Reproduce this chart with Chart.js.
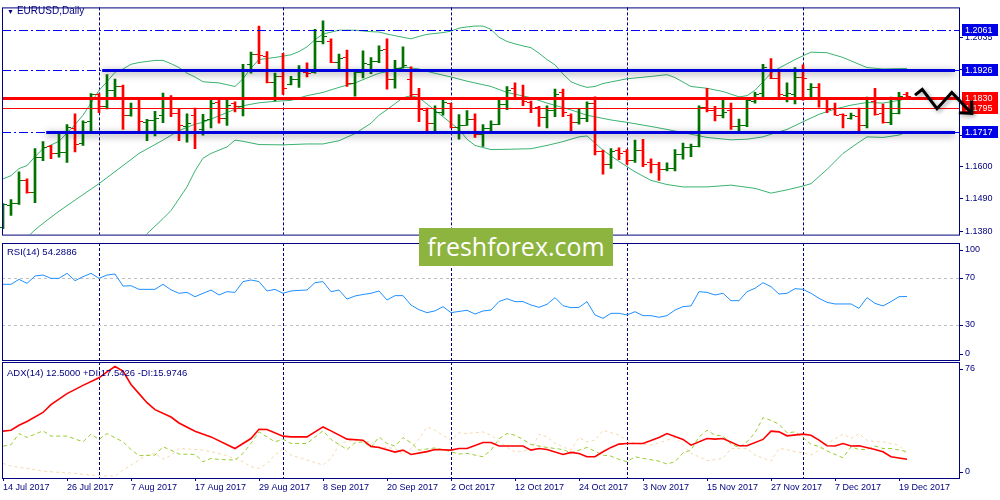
<!DOCTYPE html>
<html>
<head>
<meta charset="utf-8">
<script src="https://cdn.jsdelivr.net/npm/chart.js@4.4.0/dist/chart.umd.min.js"></script>
<style>
  body { margin: 0; background: #fff; }
  #wrap { position: relative; width: 1000px; height: 500px; overflow: hidden; font-family: "Liberation Sans", Arial, sans-serif; }
  .pane { position: absolute; left: 0; width: 1000px; }
  .lbl { position: absolute; font-size: 9.5px; line-height: 11px; color: #000080; white-space: nowrap; }
  #wm { position: absolute; left: 419px; top: 228px; width: 194px; height: 38px; background: #8db43e; color: #fff;
        font-family: "Open Sans", sans-serif; font-size: 25px; line-height: 37px; text-align: center; }
</style>
</head>
<body>
<div id="wrap">
  <div class="pane" style="top:0;height:242px"><canvas id="main" width="1000" height="242"></canvas></div>
  <div class="pane" style="top:242px;height:120px"><canvas id="rsi" width="1000" height="120"></canvas></div>
  <div class="pane" style="top:361px;height:139px"><canvas id="adx" width="1000" height="139"></canvas></div>
  <div class="lbl" style="left:7px;top:5px;font-size:10px"><span style="font-size:7px;margin-right:3px">▼</span>EURUSD,Daily</div>
  <div class="lbl" style="left:7px;top:246px">RSI(14) 54.2886</div>
  <div class="lbl" style="left:7px;top:367px">ADX(14) 12.5000 +DI:17.5426 -DI:15.9746</div>
  <div id="wm">freshforex.com</div>
</div>
<script>
// daily bars, 14 Jul 2017 .. 20 Dec 2017 (index = trading day)
const opens = [1.1396,1.1469,1.1475,1.1555,1.1513,1.1632,1.1667,1.1643,1.1648,1.1729,
  1.1679,1.1753,1.1842,1.1802,1.1856,1.1869,1.1772,1.1796,1.1750,1.1755,
  1.1772,1.1826,1.1778,1.1734,1.1772,1.1724,1.1759,1.1817,1.1761,1.1813,
  1.1802,1.1946,1.1980,1.1971,1.1885,1.1906,1.1879,1.1895,1.1919,1.1917,
  1.2024,1.2024,1.1951,1.1967,1.1881,1.1917,1.1944,1.1954,1.1994,1.1895,
  1.1933,1.1895,1.1845,1.1791,1.1745,1.1783,1.1813,1.1731,1.1740,1.1759,
  1.1710,1.1729,1.1742,1.1810,1.1863,1.1833,1.1817,1.1799,1.1767,1.1788,
  1.1849,1.1774,1.1748,1.1761,1.1813,1.1652,1.1606,1.1654,1.1652,1.1622,
  1.1654,1.1613,1.1609,1.1589,1.1595,1.1641,1.1665,1.1667,1.1799,1.1790,
  1.1774,1.1788,1.1734,1.1738,1.1820,1.1847,1.1928,1.1898,1.1840,1.1845,
  1.1901,1.1861,1.1866,1.1828,1.1796,1.1775,1.1764,1.1770,1.1740,1.1820,
  1.1781,1.1748,1.1781,1.1842];
const highs = [1.1474,1.1487,1.1581,1.1557,1.1659,1.1683,1.1670,1.1711,1.1740,1.1777,
  1.1753,1.1845,1.1845,1.1909,1.1894,1.1874,1.1813,1.1823,1.1758,1.1785,
  1.1847,1.1838,1.1793,1.1777,1.1796,1.1775,1.1828,1.1822,1.1822,1.1817,
  1.1944,1.1985,1.2073,1.1987,1.1914,1.1981,1.1903,1.1940,1.1949,1.2062,
  1.2091,1.2030,1.1978,1.1992,1.1924,1.1989,1.1967,1.2006,1.2030,1.1957,
  1.2003,1.1935,1.1863,1.1796,1.1804,1.1831,1.1813,1.1774,1.1788,1.1777,
  1.1740,1.1753,1.1826,1.1869,1.1881,1.1874,1.1820,1.1802,1.1804,1.1860,
  1.1860,1.1777,1.1793,1.1817,1.1834,1.1654,1.1659,1.1662,1.1656,1.1688,
  1.1691,1.1625,1.1613,1.1611,1.1656,1.1678,1.1675,1.1804,1.1863,1.1802,
  1.1823,1.1813,1.1759,1.1828,1.1849,1.1944,1.1963,1.1917,1.1881,1.1933,
  1.1942,1.1879,1.1879,1.1831,1.1813,1.1777,1.1779,1.1796,1.1833,1.1863,
  1.1810,1.1833,1.1849,1.1849];
const lows = [1.1389,1.1434,1.1471,1.1509,1.1477,1.1619,1.1625,1.1630,1.1613,1.1648,
  1.1670,1.1718,1.1781,1.1793,1.1831,1.1724,1.1769,1.1713,1.1686,1.1702,
  1.1747,1.1767,1.1686,1.1681,1.1659,1.1705,1.1729,1.1745,1.1738,1.1783,
  1.1770,1.1914,1.1946,1.1881,1.1820,1.1842,1.1874,1.1866,1.1901,1.1914,
  1.2013,1.1949,1.1928,1.1869,1.1836,1.1898,1.1912,1.1949,1.1860,1.1863,
  1.1931,1.1831,1.1750,1.1718,1.1718,1.1772,1.1729,1.1691,1.1738,1.1697,
  1.1667,1.1718,1.1740,1.1791,1.1826,1.1804,1.1781,1.1734,1.1729,1.1767,
  1.1767,1.1720,1.1742,1.1750,1.1638,1.1573,1.1592,1.1622,1.1606,1.1613,
  1.1598,1.1577,1.1552,1.1584,1.1584,1.1624,1.1632,1.1665,1.1783,1.1753,
  1.1763,1.1724,1.1713,1.1733,1.1813,1.1833,1.1895,1.1826,1.1817,1.1810,
  1.1823,1.1831,1.1799,1.1781,1.1772,1.1729,1.1759,1.1718,1.1729,1.1772,
  1.1745,1.1740,1.1776,1.1831];
const closes = [1.1471,1.1477,1.1552,1.1513,1.1630,1.1665,1.1643,1.1648,1.1731,1.1675,
  1.1750,1.1842,1.1802,1.1856,1.1869,1.1772,1.1796,1.1753,1.1757,1.1761,
  1.1826,1.1778,1.1738,1.1745,1.1720,1.1756,1.1813,1.1761,1.1806,1.1802,
  1.1922,1.1980,1.1974,1.1885,1.1906,1.1863,1.1895,1.1928,1.1916,1.2021,
  1.2038,1.1951,1.1965,1.1881,1.1917,1.1949,1.1954,1.1992,1.1895,1.1933,
  1.1942,1.1845,1.1793,1.1745,1.1783,1.1815,1.1732,1.1740,1.1759,1.1710,
  1.1729,1.1742,1.1810,1.1858,1.1833,1.1820,1.1796,1.1767,1.1788,1.1845,
  1.1783,1.1750,1.1761,1.1813,1.1652,1.1606,1.1652,1.1645,1.1622,1.1654,
  1.1606,1.1609,1.1589,1.1595,1.1641,1.1665,1.1667,1.1799,1.1788,1.1774,
  1.1783,1.1734,1.1738,1.1823,1.1845,1.1935,1.1898,1.1842,1.1847,1.1901,
  1.1898,1.1866,1.1828,1.1793,1.1774,1.1772,1.1772,1.1740,1.1826,1.1776,
  1.1748,1.1781,1.1838,1.1838];

// Bollinger bands (20) as [bar, price]
const bbUpper = [[0,1.1557],[1,1.1568],[2,1.1592],[3,1.1602],[4,1.1632],[5,1.1659],[7,1.1684],[9,1.1740],
  [10,1.1772],[11,1.1813],[12,1.1856],[13,1.1885],[14,1.1917],[15,1.1928],[16,1.1944],[17,1.1950],
  [19,1.1957],[20,1.1957],[21,1.1946],[22,1.1933],[23,1.1914],[24,1.1901],[25,1.1885],[27,1.1881],
  [29,1.1869],[30,1.1895],[31,1.1931],[32,1.1960],[34,1.1967],[36,1.1976],[37,1.1987],[38,1.2003],
  [39,1.2027],[40,1.2046],[42,1.2059],[44,1.2059],[46,1.2054],[47,1.2053],[48,1.2046],[50,1.2035],
  [51,1.2030],[52,1.2038],[53,1.2045],[55,1.2051],[56,1.2056],[57,1.2066],[58,1.2070],[59,1.2073],
  [60,1.2073],[61,1.2062],[62,1.2035],[63,1.2021],[64,1.2013],[65,1.2006],[66,1.2000],[67,1.1981],
  [68,1.1960],[69,1.1942],[70,1.1911],[71,1.1885],[72,1.1874],[73,1.1866],[74,1.1869],[75,1.1879],
  [78,1.1895],[81,1.1903],[83,1.1909],[84,1.1899],[86,1.1869],[88,1.1863],[90,1.1852],[92,1.1834],
  [93,1.1838],[94,1.1856],[95,1.1885],[96,1.1914],[97,1.1931],[99,1.1960],[101,1.1985],[103,1.1983],
  [105,1.1967],[107,1.1944],[108,1.1933],[110,1.1928],[113,1.1930]];
const bbMiddle = [[3,1.1359],[4,1.1385],[5,1.1407],[7,1.1448],[10,1.1504],[12,1.1541],[15,1.1602],
  [17,1.1643],[20,1.1688],[22,1.1720],[24,1.1742],[25,1.1748],[28,1.1781],[30,1.1804],[32,1.1814],
  [34,1.1819],[36,1.1822],[38,1.1838],[40,1.1849],[42,1.1866],[44,1.1881],[46,1.1903],[47,1.1914],
  [48,1.1919],[50,1.1935],[52,1.1928],[53,1.1920],[56,1.1901],[58,1.1887],[61,1.1869],[63,1.1849],
  [66,1.1831],[68,1.1813],[71,1.1790],[73,1.1772],[76,1.1756],[78,1.1748],[81,1.1734],[83,1.1724],
  [86,1.1708],[88,1.1697],[91,1.1689],[93,1.1691],[95,1.1699],[96,1.1708],[98,1.1724],[100,1.1750],
  [102,1.1775],[104,1.1793],[106,1.1806],[108,1.1815],[110,1.1813],[112,1.1822],[113,1.1828]];
const bbLower = [[17,1.1343],[18,1.1372],[20,1.1423],[21,1.1450],[23,1.1530],[24,1.1584],[25,1.1627],
  [26,1.1643],[28,1.1665],[29,1.1688],[30,1.1684],[32,1.1673],[35,1.1672],[38,1.1675],[40,1.1675],
  [42,1.1686],[44,1.1710],[46,1.1745],[47,1.1772],[48,1.1791],[50,1.1831],[51,1.1838],[52,1.1831],
  [53,1.1810],[55,1.1767],[57,1.1724],[58,1.1691],[59,1.1670],[61,1.1656],[63,1.1657],[66,1.1659],
  [68,1.1670],[70,1.1683],[71,1.1691],[72,1.1699],[73,1.1702],[75,1.1654],[77,1.1616],[79,1.1581],
  [81,1.1552],[83,1.1538],[85,1.1530],[88,1.1530],[91,1.1536],[94,1.1525],[96,1.1509],[98,1.1520],
  [100,1.1533],[101,1.1541],[103,1.1589],[105,1.1643],[107,1.1681],[108,1.1699],[110,1.1697],
  [112,1.1705],[113,1.1716]];

// RSI(14), one value per bar
const rsi = [64.7,64.7,68.9,65.5,71.8,72.6,69.8,69.8,74.1,67.8,
  71.2,74.1,69.8,72.6,73.5,63.2,63.5,60.4,60.4,60.4,
  64.7,60.0,57.0,57.8,54.1,57.0,59.8,55.6,58.4,57.8,
  67.0,68.4,67.0,59.0,60.4,57.0,59.0,59.5,59.8,66.1,
  67.0,58.4,59.8,52.1,54.7,56.0,57.0,59.0,51.3,55.0,
  55.0,47.0,43.0,40.5,42.0,45.6,40.5,41.5,42.5,39.3,
  41.9,42.7,50.0,52.4,49.9,49.9,47.0,45.0,47.6,53.3,
  46.4,44.7,45.0,49.9,38.5,35.6,39.9,39.9,38.5,41.3,
  37.9,37.9,36.5,37.9,42.7,45.6,46.2,58.4,57.8,55.6,
  57.0,50.7,50.7,58.4,61.3,66.1,62.7,56.4,57.0,61.0,
  60.4,57.0,52.7,49.3,47.9,47.9,47.9,44.2,53.3,48.4,
  46.2,49.9,54.1,54.3];

// ADX(14) and directional lines, [bar, value]
const adx = [[0,31.1],[1,31.7],[2,35],[3,37.5],[5,43.5],[6,48.7],[8,56.0],[10,61.5],[12,66.5],[13,70.5],
  [14,74.0],[15,71.0],[16,62.1],[17,56],[18,50],[19,45.4],[21,40.5],[22,36.5],[24,31.1],[26,27.3],
  [29,19.6],[31,26.2],[32,32.4],[33,32.2],[35,27.8],[36,27.3],[38,27.3],[40,33.9],[41,31.3],[43,25.8],
  [45,25.1],[46,21],[47,20.3],[49,17.2],[50,18.5],[51,15.6],[53,17.5],[54,18.9],[56,18.5],[57,19.6],
  [58,19.6],[60,23.6],[61,23.6],[62,21.2],[65,21.2],[66,18.5],[67,19.6],[68,18.9],[70,15.6],[71,17.0],
  [72,16.3],[73,14.1],[74,14.1],[75,17.4],[76,20.3],[77,22.5],[78,22.9],[80,22.9],[82,26.9],[83,29.5],
  [85,25.6],[86,21.8],[88,26.2],[89,25.8],[90,26.2],[92,21.4],[93,21.4],[95,25.6],[96,31.1],[97,30.6],
  [98,28.0],[100,29.1],[101,28.4],[102,25.1],[103,21.4],[104,21.2],[105,22.9],[106,21.2],[107,21.4],
  [109,18.9],[110,17.4],[111,14.1],[113,12.5]];
const plusDI = [[0,21.2],[1,22],[2,29.5],[3,26.9],[5,31.3],[6,27.8],[8,27.8],[10,24.0],[11,29.1],[12,25.6],
  [13,29.5],[15,24.0],[16,18.9],[17,14.8],[19,15.2],[20,20.7],[21,18.5],[22,15.9],[24,15.6],[25,10.8],
  [26,13.0],[27,12.3],[29,11.9],[30,16.3],[31,23],[32,30.6],[34,24.0],[35,25.8],[36,22.9],[38,22.9],
  [40,31.3],[41,25.6],[42,22.3],[43,18.9],[44,23.4],[45,24.0],[46,20.3],[47,27.3],[48,22.9],[49,21.2],
  [50,26.9],[51,23.4],[52,18.5],[54,20.0],[55,18.9],[56,17.4],[57,15.9],[58,16.3],[60,14.1],[61,18.5],
  [62,26],[63,29.5],[64,28.4],[65,25.6],[66,22.3],[67,21.2],[68,20.3],[70,18.9],[71,16.7],[72,18.5],
  [73,20.3],[75,15.2],[76,14.5],[77,12.3],[78,10.8],[79,14.1],[80,13.0],[82,11.2],[83,9.3],[84,10.8],
  [85,16.7],[86,18.5],[87,27.3],[88,31.7],[89,28.4],[90,28.0],[91,22.5],[92,20.3],[93,24.0],[94,30.0],
  [95,40.1],[96,38.3],[97,35.7],[98,30.0],[99,30.6],[100,26.9],[101,22.3],[102,21],[103,18],[105,13.4],
  [106,20.7],[107,18.9],[108,18.9],[109,21.2],[110,19.6],[111,19.6],[113,17.54]];
const minusDI = [[0,9.7],[1,7.9],[3,6.4],[5,4.6],[7,3.7],[9,3.1],[10,2.4],[12,1.5],[14,1.3],[15,5.3],
  [16,8.6],[17,12],[18,15.2],[19,16.3],[20,12.5],[21,15],[22,19.6],[24,18.9],[25,18.5],[27,16.3],
  [28,14.8],[30,10.8],[31,7.5],[32,6.4],[33,9.7],[34,15.2],[35,19.6],[36,15.2],[38,11.9],[40,8.6],
  [41,13.0],[42,21.8],[43,24.5],[44,25.1],[46,24.0],[47,20.7],[49,19.6],[50,15.6],[51,19.6],[52,25.8],
  [53,33.9],[54,31.7],[56,25.1],[57,30.0],[58,29.5],[60,30.6],[61,28.4],[62,24.5],[63,20.3],[64,17.4],
  [66,18.5],[67,29.1],[68,27.3],[69,22.9],[71,18.5],[72,26.9],[73,24.0],[74,25.1],[75,31.7],[77,28.4],
  [78,25.1],[79,22.9],[81,21.8],[82,23.4],[83,25.1],[84,26.9],[86,16.3],[87,14.1],[88,11.5],[90,13.0],
  [91,19.6],[93,19.6],[94,15.2],[96,11.2],[97,19.6],[98,18.9],[99,17.4],[100,16.7],[101,15.2],[102,18.5],
  [103,22.9],[105,29.1],[106,26.2],[107,29.5],[108,25.1],[109,24.0],[110,24.0],[112,21.8],[113,15.97]];

// axis labels
const labelIdx = [0,8,16,24,32,40,48,56,64,72,80,88,96,104,112];
const dateLabels = ['14 Jul 2017','26 Jul 2017','7 Aug 2017','17 Aug 2017','29 Aug 2017','8 Sep 2017',
  '20 Sep 2017','2 Oct 2017','12 Oct 2017','24 Oct 2017','3 Nov 2017','15 Nov 2017','27 Nov 2017',
  '7 Dec 2017','19 Dec 2017'];
const monthStartIdx = [12, 35, 56, 78, 100];
const priceTicks = [1.1380, 1.1490, 1.1600, 1.1705, 1.1815, 1.1925, 1.2035];
const rsiLevels = [70, 30];
const rsiTicks = [100, 70, 30, 0];
const adxTicks = [76, 0];

// drawn objects
const dashLevels = [1.2061, 1.1926, 1.1717];
const channelPrices = [1.1926, 1.1717];
const channelStart = [12.4, 5.4];
const channelEnd = 119;
const redThick = 1.1830;
const redThin = 1.1795;
const boxPrices = [1.2061, 1.1926, 1.1717, 1.1830, 1.1795];
const boxRed = [false, false, false, true, true];
const arrowPath = [[114, 1.1840], [114.9, 1.1859], [116.75, 1.1794], [118.6, 1.1849], [121.1, 1.1778]];

Chart.defaults.font.family = '"Liberation Sans", Arial, sans-serif';
Chart.defaults.font.size = 9;
Chart.defaults.color = '#000080';

const NAVY = '#000080';
const GREEN = '#007300';
const RED = '#ff0000';

function barColor(i) {
  return closes[i] >= opens[i] ? GREEN : RED;
}

function xAxis(show) {
  const ax = {
    type: 'linear', min: -0.125, max: 119.625, offset: false, display: show,
    grid: { offset: false, drawOnChartArea: false, color: NAVY, tickLength: 3 },
    border: { display: false },
    afterBuildTicks: s => { s.ticks = labelIdx.map(v => ({ value: v })); },
    ticks: { align: 'start', maxRotation: 0, autoSkip: false, padding: 1, color: NAVY,
      callback: v => dateLabels[labelIdx.indexOf(v)] }
  };
  if (show) ax.afterFit = s => { s.height = 22; };
  return ax;
}

function frame(chart) {
  const { ctx, chartArea: a } = chart;
  ctx.save();
  ctx.strokeStyle = NAVY;
  ctx.lineWidth = 1;
  ctx.strokeRect(a.left + 0.5, a.top + 0.5, a.right - a.left - 1, a.bottom - a.top);
  ctx.restore();
}

function monthLines(chart) {
  const { ctx, chartArea: a, scales: { x } } = chart;
  ctx.save();
  ctx.strokeStyle = NAVY;
  ctx.lineWidth = 1;
  ctx.setLineDash([3, 2]);
  monthStartIdx.forEach(i => {
    const px = Math.round(x.getPixelForValue(i)) + 0.5;
    ctx.beginPath();
    ctx.moveTo(px, a.top);
    ctx.lineTo(px, a.bottom);
    ctx.stroke();
  });
  ctx.restore();
}

// labels on the right axis of the indicator windows (edge ones sit inside)
function sideLabels(chart, values) {
  const { ctx, chartArea: a, scales: { y } } = chart;
  ctx.save();
  ctx.fillStyle = NAVY;
  ctx.strokeStyle = NAVY;
  ctx.font = '9px "Liberation Sans", Arial, sans-serif';
  ctx.textBaseline = 'middle';
  values.forEach(v => {
    let py = Math.round(y.getPixelForValue(v));
    py = Math.min(Math.max(py, a.top + 7), a.bottom - 6);
    ctx.beginPath();
    ctx.moveTo(a.right, py + 0.5);
    ctx.lineTo(a.right + 3, py + 0.5);
    ctx.stroke();
    ctx.fillText(String(v), a.right + 5, py);
  });
  ctx.restore();
}

const mainDeco = {
  id: 'mainDeco',
  beforeDatasetsDraw(chart) { monthLines(chart); },
  afterDatasetsDraw(chart) {
    const { ctx, chartArea: a, scales: { x, y } } = chart;
    ctx.save();
    // open / close ticks of the bars
    ctx.lineWidth = 1;
    opens.forEach((o, i) => {
      const px = Math.round(x.getPixelForValue(i));
      const yo = Math.round(y.getPixelForValue(o)) + 0.5;
      const yc = Math.round(y.getPixelForValue(closes[i])) + 0.5;
      ctx.strokeStyle = barColor(i);
      ctx.beginPath();
      ctx.moveTo(px - 4, yo); ctx.lineTo(px - 1, yo);
      ctx.moveTo(px + 1, yc); ctx.lineTo(px + 4, yc);
      ctx.stroke();
    });
    // horizontal dash-dot lines
    ctx.strokeStyle = '#0000ff';
    ctx.setLineDash([9, 3, 2, 3]);
    dashLevels.forEach(p => {
      const py = Math.round(y.getPixelForValue(p)) + 0.5;
      ctx.beginPath(); ctx.moveTo(a.left, py); ctx.lineTo(a.right, py); ctx.stroke();
    });
    ctx.setLineDash([]);
    // red levels
    ctx.strokeStyle = RED;
    let py = Math.round(y.getPixelForValue(redThin)) + 0.5;
    ctx.beginPath(); ctx.moveTo(a.left, py); ctx.lineTo(a.right, py); ctx.stroke();
    ctx.lineWidth = 3;
    py = Math.round(y.getPixelForValue(redThick)) + 0.5;
    ctx.beginPath(); ctx.moveTo(a.left, py); ctx.lineTo(a.right, py); ctx.stroke();
    // blue channel lines with shadow
    ctx.shadowColor = 'rgba(40,40,40,0.55)';
    ctx.shadowBlur = 7;
    ctx.shadowOffsetY = 2;
    ctx.strokeStyle = '#0000dd';
    channelPrices.forEach((p, k) => {
      const yy = Math.round(y.getPixelForValue(p)) + 0.5;
      ctx.beginPath();
      ctx.moveTo(x.getPixelForValue(channelStart[k]), yy);
      ctx.lineTo(x.getPixelForValue(channelEnd), yy);
      ctx.stroke();
    });
    ctx.restore();
  },
  afterDraw(chart) {
    frame(chart);
    const { ctx, chartArea: a, scales: { x, y } } = chart;
    ctx.save();
    // price boxes on the axis
    ctx.font = '9px "Liberation Sans", Arial, sans-serif';
    ctx.textBaseline = 'middle';
    boxPrices.forEach((p, k) => {
      const py = Math.round(y.getPixelForValue(p));
      ctx.fillStyle = boxRed[k] ? RED : '#0000e6';
      ctx.fillRect(a.right + 2, py - 6, 36, 12);
      ctx.fillStyle = '#ffffff';
      ctx.fillText(p.toFixed(4), a.right + 5, py + 0.5);
    });
    // zigzag forecast arrow
    ctx.strokeStyle = '#000';
    ctx.lineWidth = 3;
    ctx.lineJoin = 'miter';
    ctx.shadowColor = 'rgba(0,0,0,0.35)';
    ctx.shadowBlur = 4;
    ctx.shadowOffsetX = 2;
    ctx.shadowOffsetY = 2;
    const pts = arrowPath.map(([i, p]) => [x.getPixelForValue(i), y.getPixelForValue(p)]);
    ctx.beginPath();
    pts.forEach(([px, py], k) => k ? ctx.lineTo(px, py) : ctx.moveTo(px, py));
    const [tx, ty] = pts[pts.length - 1];
    const [sx, sy] = pts[pts.length - 2];
    const ang = Math.atan2(ty - sy, tx - sx);
    ctx.moveTo(tx + 13 * Math.cos(ang + Math.PI - 0.75), ty + 13 * Math.sin(ang + Math.PI - 0.75));
    ctx.lineTo(tx, ty);
    ctx.lineTo(tx + 13 * Math.cos(ang + Math.PI + 0.75), ty + 13 * Math.sin(ang + Math.PI + 0.75));
    ctx.stroke();
    ctx.restore();
  }
};

const rsiDeco = {
  id: 'rsiDeco',
  beforeDatasetsDraw(chart) {
    monthLines(chart);
    const { ctx, chartArea: a, scales: { y } } = chart;
    ctx.save();
    ctx.strokeStyle = '#c0c0c0';
    ctx.setLineDash([3, 3]);
    rsiLevels.forEach(v => {
      const py = Math.round(y.getPixelForValue(v)) + 0.5;
      ctx.beginPath(); ctx.moveTo(a.left, py); ctx.lineTo(a.right, py); ctx.stroke();
    });
    ctx.restore();
  },
  afterDraw(chart) { frame(chart); sideLabels(chart, rsiTicks); }
};

const adxDeco = {
  id: 'adxDeco',
  beforeDatasetsDraw(chart) { monthLines(chart); },
  afterDraw(chart) { frame(chart); sideLabels(chart, adxTicks); }
};

function sideAxis(min, max) {
  return {
    position: 'right', min: min, max: max,
    afterFit: s => { s.width = 40; },
    grid: { display: false },
    border: { display: false },
    ticks: { display: false }
  };
}

const toXY = arr => arr.map(([x, y]) => ({ x, y }));
const bandStyle = { type: 'line', borderColor: '#3cb371', borderWidth: 1, pointRadius: 0, tension: 0 };

new Chart(document.getElementById('main'), {
  type: 'bar',
  data: {
    datasets: [
      {
        data: highs.map((h, i) => ({ x: i, y: [lows[i], h] })),
        backgroundColor: opens.map((o, i) => barColor(i)),
        borderWidth: 0, barThickness: 2, grouped: false
      },
      Object.assign({ data: toXY(bbUpper) }, bandStyle),
      Object.assign({ data: toXY(bbMiddle) }, bandStyle),
      Object.assign({ data: toXY(bbLower) }, bandStyle)
    ]
  },
  options: {
    responsive: false, animation: false, devicePixelRatio: 1,
    layout: { padding: { left: 2, top: 2, right: 0, bottom: 2 } },
    plugins: { legend: { display: false }, tooltip: { enabled: false } },
    scales: {
      x: xAxis(false),
      y: {
        position: 'right', min: 1.1369, max: 1.2136,
        afterBuildTicks: s => { s.ticks = priceTicks.map(v => ({ value: v })); },
        afterFit: s => { s.width = 40; },
        grid: { drawOnChartArea: false, color: NAVY, tickLength: 3 },
        border: { display: false },
        ticks: { padding: 2, color: NAVY, autoSkip: false, callback: v => v.toFixed(4) }
      }
    }
  },
  plugins: [mainDeco]
});

new Chart(document.getElementById('rsi'), {
  type: 'line',
  data: {
    datasets: [{
      data: rsi.map((v, i) => ({ x: i, y: v })),
      borderColor: '#1e90ff', borderWidth: 1, pointRadius: 0, tension: 0
    }]
  },
  options: {
    responsive: false, animation: false, devicePixelRatio: 1,
    layout: { padding: { left: 2, top: 1, right: 0, bottom: 2 } },
    plugins: { legend: { display: false }, tooltip: { enabled: false } },
    scales: { x: xAxis(false), y: sideAxis(0, 100) }
  },
  plugins: [rsiDeco]
});

new Chart(document.getElementById('adx'), {
  type: 'line',
  data: {
    datasets: [
      { data: toXY(adx), borderColor: '#ff0000', borderWidth: 1.6, pointRadius: 0, tension: 0 },
      { data: toXY(plusDI), borderColor: '#9acd32', borderWidth: 1, borderDash: [4, 3], pointRadius: 0, tension: 0 },
      { data: toXY(minusDI), borderColor: '#f5d9ae', borderWidth: 1, borderDash: [3, 3], pointRadius: 0, tension: 0 }
    ]
  },
  options: {
    responsive: false, animation: false, devicePixelRatio: 1,
    layout: { padding: { left: 2, top: 1, right: 0, bottom: 0 } },
    plugins: { legend: { display: false }, tooltip: { enabled: false } },
    scales: { x: xAxis(true), y: sideAxis(0, 77) }
  },
  plugins: [adxDeco]
});
</script>
</body>
</html>
